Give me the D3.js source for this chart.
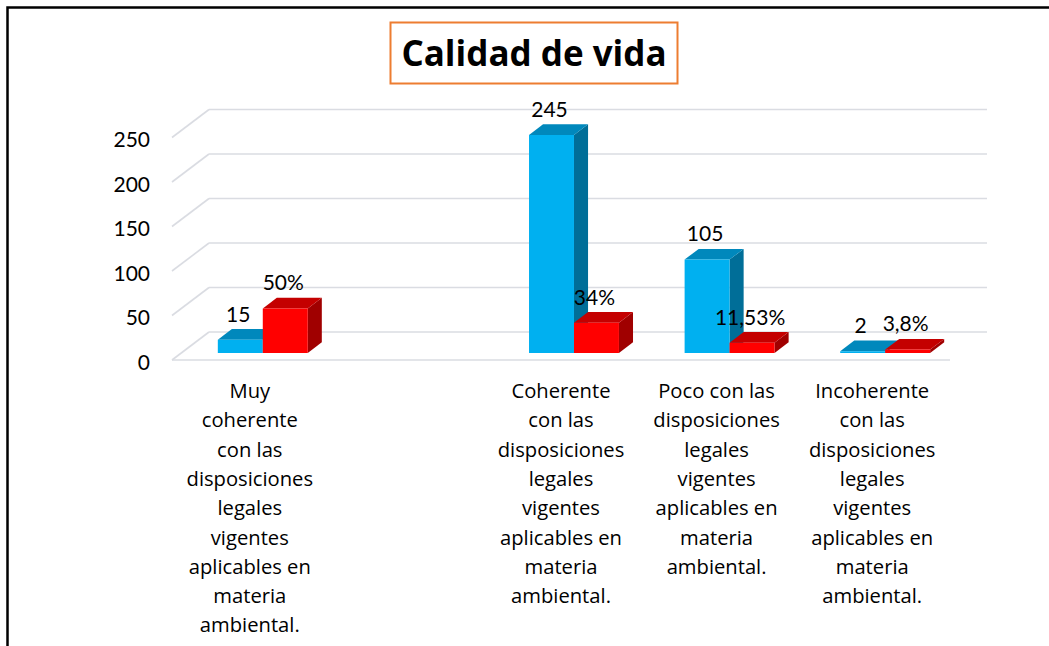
<!DOCTYPE html>
<html>
<head>
<meta charset="utf-8">
<script src="https://cdn.jsdelivr.net/npm/d3@7"></script>
<style>
  body { margin: 0; background: #fff; }
  svg { display: block; }
  text { font-family: Lato, "Open Sans", sans-serif; fill: #000; }
</style>
</head>
<body>
<svg id="chart" width="1049" height="646"></svg>
<script>
// datos del grafico
var categories = ["muy", "vacio", "coherente", "poco", "incoherente"]
var categoryLines = [
  ["Muy", "coherente", "con las", "disposiciones", "legales", "vigentes", "aplicables en", "materia", "ambiental."],
  [],
  ["Coherente", "con las", "disposiciones", "legales", "vigentes", "aplicables en", "materia", "ambiental."],
  ["Poco con las", "disposiciones", "legales", "vigentes", "aplicables en", "materia", "ambiental."],
  ["Incoherente", "con las", "disposiciones", "legales", "vigentes", "aplicables en", "materia", "ambiental."]
]
var series = ["cantidad", "porcentaje"]
var cantidad = [15, null, 245, 105, 2]
var porcentaje = [50, null, 34, 11.53, 3.8]
var porcentajeLabels = ["50%", "", "34%", "11,53%", "3,8%"]
var yTicks = [0, 50, 100, 150, 200, 250]

var colors = {
  cantidad: {front: "#00B0F0", top: "#0088BC", side: "#006E98"},
  porcentaje: {front: "#FF0000", top: "#C40000", side: "#A00000"}
}

const svg = d3.select("#chart")

// marco
svg.append("path")
  .attr("d", "M7.5,1100 L7.5,7.5 L1100,7.5")
  .attr("fill", "none")
  .attr("stroke", "#000")
  .attr("stroke-width", 2.5)

// 3D: desplazamiento de la profundidad
var DX = 37, DY = 28
var z0 = 0.25, z1 = 0.63

const y = d3.scaleLinear().domain([0, 250]).range([360, 137.5])
const x0 = d3.scaleBand().domain(categories).range([172, 950])
const bw = x0.bandwidth()
const x1 = d3.scaleBand().domain(series).range([bw * 0.235, bw * 0.235 + bw * 0.578])

function px(xf, z) { return xf + z * DX }
function py(v, z) { return y(v) - z * DY }

// rejilla
const grid = svg.append("g")
  .attr("stroke", "#DADCE2")
  .attr("stroke-width", 1.6)
  .attr("fill", "none")

yTicks.forEach(v => {
  grid.append("line")
    .attr("x1", px(x0.range()[0], 0)).attr("y1", py(v, 0))
    .attr("x2", px(x0.range()[0], 1)).attr("y2", py(v, 1))
  grid.append("line")
    .attr("x1", px(x0.range()[0], 1)).attr("y1", py(v, 1))
    .attr("x2", px(x0.range()[1], 1)).attr("y2", py(v, 1))
})
grid.append("line")
  .attr("x1", px(x0.range()[0], 0)).attr("y1", py(0, 0))
  .attr("x2", px(x0.range()[1], 0)).attr("y2", py(0, 0))

// etiquetas eje y
svg.append("g").selectAll("text")
  .data(yTicks)
  .join("text")
    .attr("x", 150)
    .attr("y", d => y(d) + 1)
    .attr("text-anchor", "end")
    .attr("dominant-baseline", "central")
    .attr("font-size", 21)
    .text(d => d)

// barras
var bars = []
categories.forEach((c, i) => {
  if (cantidad[i] != null) bars.push({cat: c, s: "cantidad", v: cantidad[i], label: String(cantidad[i])})
  if (porcentaje[i] != null) bars.push({cat: c, s: "porcentaje", v: porcentaje[i], label: porcentajeLabels[i]})
})

const barG = svg.append("g")
bars.forEach(d => {
  var xl = x0(d.cat) + x1(d.s)
  var xr = xl + x1.bandwidth()
  var col = colors[d.s]
  var g = barG.append("g")
  var pts = (arr) => arr.map(p => p.join(",")).join(" ")
  // lado
  g.append("polygon")
    .attr("points", pts([[px(xr, z0), py(0, z0)], [px(xr, z1), py(0, z1)], [px(xr, z1), py(d.v, z1)], [px(xr, z0), py(d.v, z0)]]))
    .attr("fill", col.side)
  // tapa
  g.append("polygon")
    .attr("points", pts([[px(xl, z0), py(d.v, z0)], [px(xr, z0), py(d.v, z0)], [px(xr, z1), py(d.v, z1)], [px(xl, z1), py(d.v, z1)]]))
    .attr("fill", col.top)
  // frente
  g.append("polygon")
    .attr("points", pts([[px(xl, z0), py(0, z0)], [px(xr, z0), py(0, z0)], [px(xr, z0), py(d.v, z0)], [px(xl, z0), py(d.v, z0)]]))
    .attr("fill", col.front)
})

// etiquetas de datos
svg.append("g").selectAll("text")
  .data(bars)
  .join("text")
    .attr("x", d => px(x0(d.cat) + x1(d.s) + x1.bandwidth() / 2, z0) - 2)
    .attr("y", d => py(d.v, z1) - 7.5)
    .attr("text-anchor", "middle")
    .attr("font-size", 21)
    .text(d => d.label)

// etiquetas de categorias
const catG = svg.append("g")
categories.forEach((c, i) => {
  catG.append("text")
    .attr("x", x0(c) + bw / 2)
    .attr("y", 398)
    .attr("text-anchor", "middle")
    .style("font-family", "'Open Sans', sans-serif")
    .attr("font-size", 20.2)
    .selectAll("tspan")
    .data(categoryLines[i])
    .join("tspan")
      .attr("x", x0(c) + bw / 2)
      .attr("dy", (d, j) => j == 0 ? 0 : 29.3)
      .text(d => d)
})

// titulo
const titleG = svg.append("g")
titleG.append("rect")
  .attr("x", 390.5).attr("y", 22.5)
  .attr("width", 287).attr("height", 61)
  .attr("fill", "#fff")
  .attr("stroke", "#ED7D31")
  .attr("stroke-width", 2)
titleG.append("text")
  .attr("x", 534)
  .attr("y", 66)
  .attr("text-anchor", "middle")
  .style("font-family", "'Open Sans', sans-serif")
  .attr("font-size", 35)
  .attr("font-weight", "bold")
  .text("Calidad de vida")
</script>
</body>
</html>
